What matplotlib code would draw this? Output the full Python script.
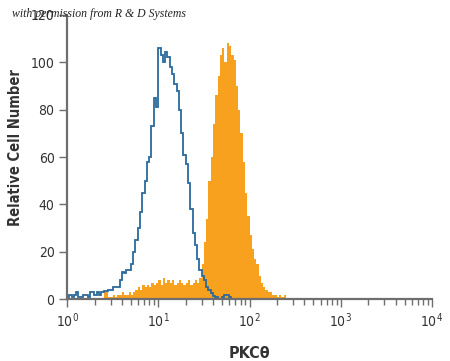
import numpy as np
import matplotlib
matplotlib.use('Agg')
import matplotlib.pyplot as plt

# log10 bin width (decades) used for both histograms
bin_width = 0.025

# isotype control (blue outline), bins starting at 10^0
control_counts = [1, 2, 1, 2, 3, 1, 1, 2, 2, 1,
                  3, 3, 2, 3, 2, 3, 3.5, 3.5, 4, 4,
                  5, 5, 5, 8, 11.5, 11, 12.5, 12.5, 15, 20,
                  25, 30, 37, 45, 50, 58, 60, 73, 85, 81,
                  106, 103, 100, 104.5, 102, 98, 95, 91, 88, 80,
                  70, 61, 57, 49, 38, 28, 23, 17, 12.5, 10,
                  8, 5, 4, 2.5, 1.5, 1, 0, 0, 1, 2,
                  2, 1, 0]

# PKC theta stained (orange filled), bins starting at 10^0
stained_counts = [0, 0, 0, 0, 0, 0, 0, 0, 0, 0,
                  0, 0, 0, 0, 0, 0, 3, 4, 1, 1,
                  2, 1, 2, 2, 3, 2, 2, 3, 2, 3,
                  4, 5, 4, 6, 5, 6, 5, 7, 6, 7,
                  8, 6, 9, 7, 8, 7, 8, 6, 7, 8,
                  7, 6, 7, 8, 6, 7, 8, 7, 9, 15,
                  24, 34, 50, 60, 74, 86, 94, 103, 106, 100,
                  108, 107, 103, 101, 90, 80, 70, 58, 45, 35,
                  27, 21, 17, 15, 10, 7, 5, 4, 3, 3,
                  2, 2, 1, 2, 1, 2, 0]

y_ticks = [0, 20, 40, 60, 80, 100, 120]
x_decades = [1, 10, 100, 1000, 10000]

BLUE = '#2b6a9b'
ORANGE = '#f8a11f'
AXIS_GRAY = '#6e6e6e'
TEXT = '#333333'

plt.rcParams['font.family'] = ['DejaVu Sans']
plt.rcParams['font.stretch'] = 'condensed'
plt.rcParams['mathtext.fontset'] = 'custom'
plt.rcParams['mathtext.rm'] = 'DejaVu Sans:stretch=condensed'

fig = plt.figure(figsize=(4.5, 3.61), dpi=100)
ax = fig.add_axes([0.149, 0.171, 0.811, 0.788])

# orange filled histogram
s_edges = 10 ** (np.arange(len(stained_counts) + 1) * bin_width)
ax.stairs(stained_counts, s_edges, fill=True, color=ORANGE, linewidth=0)

# blue outline histogram, last bin stretched out along the baseline
c_edges = 10 ** (np.arange(len(control_counts) + 1) * bin_width)
c_edges[-1] = x_decades[-1]
ax.stairs(control_counts, c_edges, color=BLUE, linewidth=1.3, baseline=None)

ax.set_xscale('log')
ax.set_xlim(x_decades[0], x_decades[-1])
ax.set_ylim(0, 120)
ax.set_yticks(y_ticks)
ax.set_xticks(x_decades)

for side in ['top', 'right']:
    ax.spines[side].set_visible(False)
for side in ['left', 'bottom']:
    ax.spines[side].set_color(AXIS_GRAY)
    ax.spines[side].set_linewidth(1.6)
    ax.spines[side].set_zorder(1)

ax.tick_params(axis='both', which='major', color=AXIS_GRAY, width=1.0,
               length=6, labelsize=10, labelcolor=TEXT, pad=3)
ax.tick_params(axis='x', which='minor', color=AXIS_GRAY, width=1.0, length=4)

ax.set_ylabel('Relative Cell Number', fontsize=10.5, fontweight='bold',
              color=TEXT)
ax.yaxis.set_label_coords(-0.12, 0.535)
ax.set_xlabel('PKC\u03b8', fontsize=11.5, fontweight='bold',
              color=TEXT, labelpad=11)

fig.text(0.027, 0.962, 'with permission from R & D Systems', fontsize=8.5,
         family='Liberation Serif', style='italic', color='#222222',
         va='center', ha='left')

fig.savefig('out.png', dpi=100)
